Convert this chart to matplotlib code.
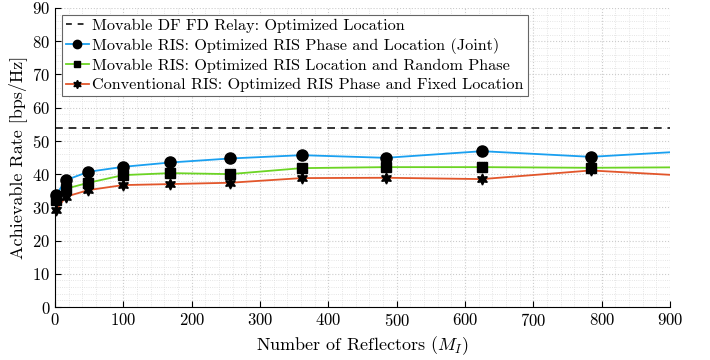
import numpy as np
import matplotlib
matplotlib.use('Agg')
import matplotlib.pyplot as plt
from matplotlib.ticker import MultipleLocator
from matplotlib.lines import Line2D

plt.rcParams['font.family'] = 'serif'
plt.rcParams['font.serif'] = ['cmr10', 'DejaVu Serif']
plt.rcParams['mathtext.fontset'] = 'cm'
plt.rcParams['axes.formatter.use_mathtext'] = True

# number of reflectors (square numbers), last point lies past the axis limit
m_i = [1, 16, 49, 100, 169, 256, 361, 484, 625, 784, 961]

relay_rate = 53.9
joint = [33.6, 38.2, 40.7, 42.2, 43.5, 44.7, 45.7, 44.9, 46.9, 45.2, 47.3]
loc_random = [32.1, 35.6, 37.4, 39.7, 40.3, 40.0, 41.8, 42.1, 42.1, 41.9, 42.1]
conventional = [29.1, 33.2, 35.2, 36.7, 37.0, 37.4, 38.8, 38.9, 38.5, 41.1, 39.1]

labels = ['Movable DF FD Relay: Optimized Location',
          'Movable RIS: Optimized RIS Phase and Location (Joint)',
          'Movable RIS: Optimized RIS Location and Random Phase',
          'Conventional RIS: Optimized RIS Phase and Fixed Location']

fig = plt.figure(figsize=(7.1, 3.6), dpi=100)
ax = fig.add_axes([55/710, 53/360, 615/710, 299/360])
ax.set_xlim(0, 900)
ax.set_ylim(0, 90)

dash = (0, (4, 3))
ax.axhline(relay_rate, color='#333333', ls=dash, lw=1.4)
handles = [Line2D([], [], color='#333333', ls=(0, (3, 3)), lw=1.4)]

series = [(joint, '#1AA0F0', 'o', 8), (loc_random, '#6CD424', 's', 6.5),
          (conventional, '#E2562B', (6, 1, 0), 8)]
shown = [i for i, x in enumerate(m_i) if x <= 900]
for vals, col, mk, ms in series:
    ax.plot(m_i, vals, color=col, lw=1.3)
    ax.plot([m_i[i] for i in shown], [vals[i] for i in shown], ls='none',
            marker=mk, ms=ms, mfc='black', mec='black', clip_on=False, zorder=3)
    handles.append(Line2D([], [], color=col, lw=1.3, marker=mk, ms=ms * 0.75,
                          mfc='black', mec='black'))

ax.xaxis.set_major_locator(MultipleLocator(100))
ax.xaxis.set_minor_locator(MultipleLocator(20))
ax.yaxis.set_major_locator(MultipleLocator(10))
ax.yaxis.set_minor_locator(MultipleLocator(2))
ax.grid(True, which='major', color='#cccccc', ls=':', lw=0.8)
ax.grid(True, which='minor', color='#dddddd', ls=':', lw=0.6)
ax.tick_params(which='both', direction='in', labelsize=12, top=False, right=False)
ax.tick_params(which='minor', length=0)
ax.tick_params(which='major', length=4)
for s in ['top', 'right']:
    ax.spines[s].set_visible(False)

ax.set_xlabel(r'Number of Reflectors ($M_I$)', fontsize=13)
ax.set_ylabel('Achievable Rate [bps/Hz]', fontsize=13)

leg = ax.legend(handles, labels, loc='upper left', fontsize=11.7, frameon=True,
                fancybox=False, edgecolor='#666666', framealpha=1,
                handlelength=1.45, borderpad=0.25, labelspacing=0.3,
                handletextpad=0.2, borderaxespad=0.4)
leg.get_frame().set_linewidth(0.8)

fig.savefig('out.png', dpi=100)
